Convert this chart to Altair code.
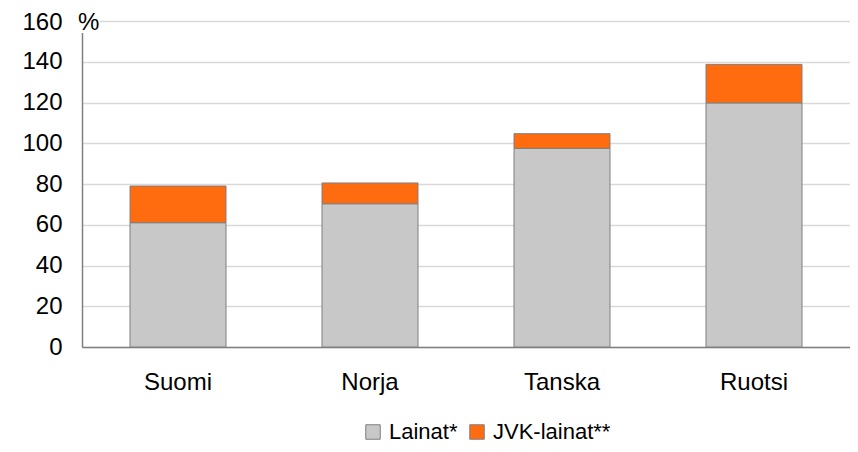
import altair as alt
import pandas as pd

countries = ["Suomi", "Norja", "Tanska", "Ruotsi"]
lainat = [61.0, 70.3, 97.5, 119.8]
jvk = [18.0, 10.2, 7.2, 18.9]
series = ["Lainat*", "JVK-lainat**"]
colors = ["#c8c8c8", "#ff6c10"]
y_ticks = [0, 20, 40, 60, 80, 100, 120, 140, 160]

rows = []
for c, a, b in zip(countries, lainat, jvk):
    rows.append({"maa": c, "sarja": series[0], "arvo": a, "jarj": 0})
    rows.append({"maa": c, "sarja": series[1], "arvo": b, "jarj": 1})
df = pd.DataFrame(rows)

FONT = "Liberation Sans"
FS = 24

bars = alt.Chart(df).mark_bar(stroke="#7f7f7f", strokeWidth=1).encode(
    x=alt.X("maa:N", sort=countries,
            scale=alt.Scale(paddingInner=0.5, paddingOuter=0.25),
            axis=alt.Axis(title=None, labelAngle=0, ticks=False, labelPadding=23,
                          labelFontSize=FS, labelFont=FONT, labelColor="#000000",
                          domainColor="#808080", domainWidth=1.5)),
    y=alt.Y("arvo:Q", stack="zero",
            scale=alt.Scale(domain=[0, 160], nice=False),
            axis=alt.Axis(title=None, values=y_ticks, ticks=False, labelPadding=20,
                          labelOffset={"expr": "datum.value == 160 ? 1.5 : 0"},
                          labelFontSize=FS, labelFont=FONT, labelColor="#000000",
                          domainColor="#808080", domainWidth=1.5,
                          gridColor="#d9d9d9", gridWidth=1.5)),
    color=alt.Color("sarja:N", sort=series,
                    scale=alt.Scale(domain=series, range=colors),
                    legend=alt.Legend(title=None, orient="none", direction="horizontal",
                                      legendX=280, legendY=400,
                                      symbolType="square", symbolSize=210,
                                      symbolStrokeColor="#7f7f7f", symbolStrokeWidth=1,
                                      symbolOpacity=1,
                                      labelFontSize=22, labelFont=FONT, labelColor="#000000",
                                      labelOffset=5, columnPadding=8, labelLimit=300)),
    order=alt.Order("jarj:Q"),
)

mask = alt.Chart(pd.DataFrame({"t": ["%"]})).mark_rect(color="white").encode(
    x=alt.value(-6), x2=alt.value(18), y=alt.value(-10), y2=alt.value(12)
)
pct = alt.Chart(pd.DataFrame({"t": ["%"]})).mark_text(
    font=FONT, fontSize=FS, color="#000000", align="left", baseline="middle"
).encode(text="t:N", x=alt.value(-4), y=alt.value(1.5))

chart = alt.layer(bars, mask, pct).properties(
    width=768, height=326,
    autosize=alt.AutoSizeParams(type="none"),
    padding={"left": 74, "top": 13, "right": 0, "bottom": 96},
).configure_view(stroke="#808080", strokeWidth=1.5).configure(background="white")

chart.save("out.html", embed_options={"renderer": "svg", "actions": False})
